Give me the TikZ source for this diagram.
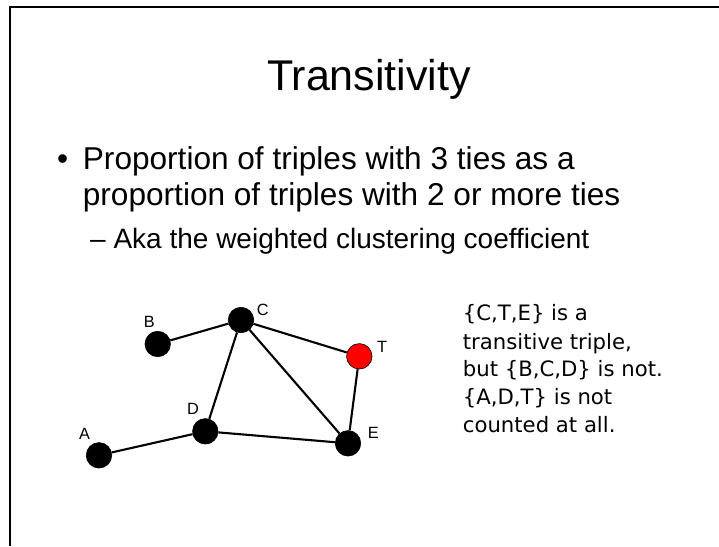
\documentclass[tikz,border=0pt]{standalone}
\usepackage{fontspec}
\setmainfont{Liberation Sans}
\newfontfamily\comicfont{DejaVu Sans}
\begin{document}
\begin{tikzpicture}[x=1pt,y=-1pt,
  vertex/.style={circle,fill=black,draw=black,line width=0.6pt,minimum size=25.5pt,inner sep=0pt},
  redvertex/.style={vertex,fill=red},
  edge/.style={line width=2.1pt,black},
  vlabel/.style={inner sep=0pt,font=\fontsize{16.3}{18}\selectfont},
  bodytext/.style={inner sep=0pt,anchor=base west,font=\fontsize{31.6}{36}\selectfont},
  subtext/.style={inner sep=0pt,anchor=base west,font=\fontsize{28}{32}\selectfont},
  notetext/.style={inner sep=0pt,anchor=base west,font=\comicfont\fontsize{21.2}{28}\selectfont}]
\useasboundingbox (0,0) rectangle (719,546);
\fill[white] (0,0) rectangle (719,546);
% frame
\draw[line width=2pt] (10,546) -- (10,6.7) -- (719,6.7);
% title
\node[inner sep=0pt,anchor=base,font=\fontsize{43}{48}\selectfont] (title) at (369,90) {Transitivity};
% bullets
\node[bodytext] (bul) at (57,169) {•};
\node[bodytext] (l1) at (82.7,169) {Proportion of triples with 3 ties as a};
\node[bodytext] (l2) at (82.7,205.5) {proportion of triples with 2 or more ties};
\node[subtext] (l3) at (90,248) {– Aka the weighted clustering coefficient};
% graph nodes
\node[vertex] (B) at (157.7,344) {};
\node[vertex] (C) at (241,320) {};
\node[redvertex] (T) at (359.3,356.3) {};
\node[vertex] (D) at (205.3,431.3) {};
\node[vertex] (A) at (99,455.3) {};
\node[vertex] (E) at (348,443.3) {};
% edges
\draw[edge] (B) -- (C);
\draw[edge] (C) -- (T);
\draw[edge] (C) -- (D);
\draw[edge] (C) -- (E);
\draw[edge] (T) -- (E);
\draw[edge] (D) -- (E);
\draw[edge] (A) -- (D);
% labels
\node[vlabel] (Bl) at (149.2,322.2) {B};
\node[vlabel] (Cl) at (262.7,310) {C};
\node[vlabel] (Tl) at (382.2,346.7) {T};
\node[vlabel] (Dl) at (193,408.5) {D};
\node[vlabel] (Al) at (84.5,434.2) {A};
\node[vlabel] (El) at (373.3,433.3) {E};
% note
\node[notetext] (r1) at (462.7,320.7) {\{C,T,E\} is a};
\node[notetext] (r2) at (462.7,349) {transitive triple,};
\node[notetext] (r3) at (462.7,376.8) {but \{B,C,D\} is not.};
\node[notetext] (r4) at (462.7,404.5) {\{A,D,T\} is not};
\node[notetext] (r5) at (462.7,432.5) {counted at all.};
\end{tikzpicture}
\end{document}
